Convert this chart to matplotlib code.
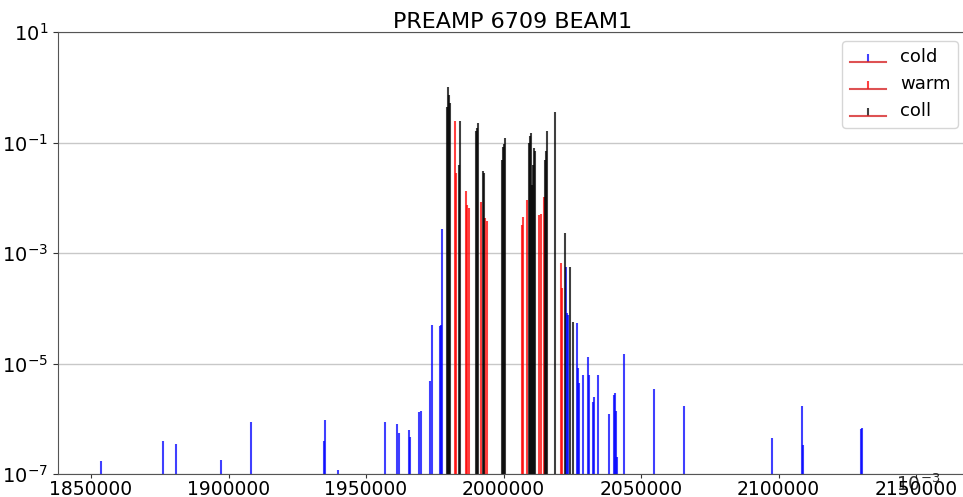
import matplotlib
matplotlib.use("Agg")
import matplotlib.pyplot as plt

cold_x = [1853600, 1876200, 1880900, 1897300, 1908200, 1934700, 1935100, 1939800,
          1956900, 1961300, 1962000, 1965600, 1966000, 1969300, 1970000, 1973300,
          1974000, 1976900, 1977300, 1977600, 2022700, 2023100, 2023400, 2026600,
          2027100, 2027400, 2028800, 2030600, 2031100, 2032400, 2032900, 2034400,
          2038400, 2040200, 2040500, 2040900, 2041200, 2043800, 2054800, 2065500,
          2097700, 2108400, 2108900, 2130000, 2130300]
cold_y = [1.7e-7, 4.0e-7, 3.5e-7, 1.8e-7, 8.7e-7, 4.0e-7, 9.5e-7, 1.2e-7,
          8.7e-7, 8.0e-7, 5.5e-7, 6.2e-7, 4.6e-7, 1.3e-6, 1.4e-6, 4.8e-6,
          5.0e-5, 4.8e-5, 4.9e-5, 2.7e-3, 5.6e-4, 8.2e-5, 7.5e-5, 5.3e-5,
          8.3e-6, 4.4e-6, 6.2e-6, 1.3e-5, 6.2e-6, 2.0e-6, 2.5e-6, 6.2e-6,
          1.2e-6, 2.7e-6, 2.9e-6, 1.4e-6, 2.0e-7, 1.5e-5, 3.4e-6, 1.7e-6,
          4.4e-7, 1.7e-6, 3.3e-7, 6.4e-7, 6.8e-7]

warm_x = [1982300, 1982700, 1986200, 1986700, 1987400, 1991800, 1993300, 1994000,
          2006600, 2007100, 2008500, 2012900, 2013600, 2014700, 2020900, 2021400]
warm_y = [0.24, 0.028, 0.013, 0.0074, 0.0066, 0.0085, 0.0043, 0.0038,
          0.0032, 0.0045, 0.0091, 0.0049, 0.0050, 0.0105, 6.6e-4, 2.3e-4]

coll_x = [1979300, 1979900, 1980200, 1980500, 1983800, 1984200, 1990000, 1990300,
          1990700, 1992400, 1992900, 1999400, 1999800, 2000200, 2000500, 2009400,
          2009600, 2010000, 2010300, 2010700, 2011100, 2011400, 2015100, 2015400,
          2015800, 2018700, 2022300, 2024000, 2025100]
coll_y = [0.44, 1.0, 0.72, 0.52, 0.039, 0.24, 0.16, 0.18,
          0.23, 0.030, 0.028, 0.048, 0.083, 0.095, 0.12, 0.098,
          0.13, 0.15, 0.017, 0.039, 0.079, 0.07, 0.048, 0.069,
          0.16, 0.36, 0.0023, 5.6e-4, 5.7e-5]

fig = plt.figure(figsize=(9.63, 4.97), dpi=100)
ax = fig.add_axes([58 / 963, 23 / 497, 909 / 963, 442 / 497])

series = [(cold_x, cold_y, "b", "cold"),
          (warm_x, warm_y, "r", "warm"),
          (coll_x, coll_y, "k", "coll")]
for xs, ys, c, name in series:
    cont = ax.stem(xs, ys, linefmt=c + "-", markerfmt=" ", basefmt="C3-",
                   bottom=1e-9, label=name)
    cont.stemlines.set_alpha(0.75)
    cont.stemlines.set_linewidth(1.5)
    cont.baseline.set_alpha(0.8)

ax.set_yscale("log")
ax.set_ylim(1e-7, 1e1)
ax.set_xlim(1838000, 2168500)
ax.set_yticks([1e-7, 1e-5, 1e-3, 1e-1, 1e1])
ax.minorticks_off()
ax.set_xticks([1850000, 1900000, 1950000, 2000000, 2050000, 2100000, 2150000])
ax.set_xticklabels(["1850000", "1900000", "1950000", "2000000", "2050000",
                    "2100000", "2150000"])
ax.tick_params(labelsize=14, colors="#333333", labelcolor="black")
ax.tick_params(axis="x", pad=1, labelsize=13.5, length=3)
ax.grid(True, axis="y", color="#c8c8c8", linewidth=1)
ax.set_axisbelow(True)
for s in ax.spines.values():
    s.set_color("#555555")
ax.set_title("PREAMP 6709 BEAM1", fontsize=16, pad=3)
ax.legend(loc="upper right", fontsize=13)

# stray overlapping label at bottom right
fig.text(896 / 963, 6 / 497, r"$10^{-3}$", fontsize=13.5, alpha=0.8)

fig.savefig("out.png", dpi=100)
